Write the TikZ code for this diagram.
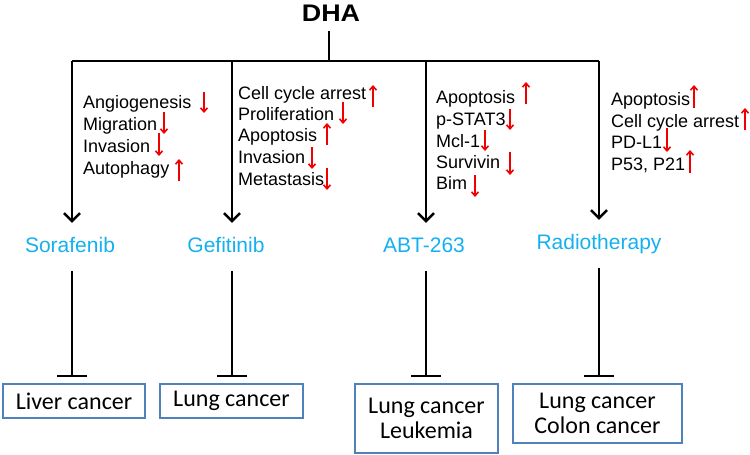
\documentclass[tikz,border=0pt]{standalone}
\usepackage{fontspec}
\setmainfont{Liberation Sans}
\newfontfamily\boxfont{Carlito}
\usetikzlibrary{arrows.meta}
\usetikzlibrary{positioning}
\definecolor{drugblue}{RGB}{20,176,240}
\definecolor{boxblue}{RGB}{79,129,189}
\definecolor{effred}{RGB}{240,0,0}
\tikzstyle{root}=[font=\fontsize{24}{28}\selectfont\bfseries,inner ysep=10pt,anchor=base]
\tikzstyle{drug}=[font=\fontsize{21}{25}\selectfont,text=drugblue,
        text height=15pt,text depth=4pt,inner ysep=14pt,anchor=base]
\tikzstyle{effect}=[font=\fontsize{18}{21}\selectfont,anchor=base west,inner sep=0pt]
\tikzstyle{cancer}=[rectangle,draw=boxblue,line width=2pt,align=center,
        font=\boxfont\fontsize{24}{25}\selectfont,inner sep=0pt]
\tikzstyle{trunk}=[line width=2.5pt]
\tikzstyle{suite}=[-{Straight Barb[length=8pt,width=16pt]},line width=2.5pt]
\tikzstyle{inhib}=[-{Bar[width=30pt,line width=2pt]},line width=2pt,
        shorten <=1pt,shorten >=6pt]
\tikzstyle{incr}=[-{Straight Barb[length=4pt,width=7pt]},effred,line width=1.6pt]
\tikzstyle{decr}=[-{Straight Barb[length=4pt,width=7pt]},effred,line width=1.6pt]

\begin{document}
\begin{tikzpicture}[x=1pt,y=-1pt]
\useasboundingbox (0,0) rectangle (750,455);
\node[root] (dha) at (331,21) {\scalebox{1.12}[1]{DHA}};
\coordinate (j0) at (329,61);
\coordinate (j1) at (72,61);
\coordinate (j2) at (232,61);
\coordinate (j3) at (426,61);
\coordinate (j4) at (599,61);
%drugs
\node[drug] (sora) at (70,252) {Sorafenib};
\node[drug] (gefi) at (226,252) {Gefitinib};
\node[drug] (abt) at (424,252) {ABT-263};
\node[drug] (radio) at (599,249) {Radiotherapy};
%cancers
\node[cancer,minimum width=142pt,minimum height=34pt] (liver) at (74,401) {Liver cancer};
\node[cancer,minimum width=143pt,minimum height=34pt] (lung) at (231.5,401) {Lung cancer};
\node[cancer,minimum width=143pt,minimum height=69pt] (leuk) at (426.5,418.5) {Lung cancer\\Leukemia};
\node[cancer,minimum width=169pt,minimum height=59pt] (colon) at (597.5,413.5) {Lung cancer\\Colon cancer};
%effects
\node[effect] (s1) at (83,108) {Angiogenesis};
\node[effect] (s2) at (83,130) {Migration};
\node[effect] (s3) at (83,152) {Invasion};
\node[effect] (s4) at (83,174) {Autophagy};
\node[effect] (g1) at (238,99) {Cell cycle arrest};
\node[effect] (g2) at (238,120) {Proliferation};
\node[effect] (g3) at (238,141) {Apoptosis};
\node[effect] (g4) at (238,163) {Invasion};
\node[effect] (g5) at (238,185) {Metastasis};
\node[effect] (a1) at (436,103) {Apoptosis};
\node[effect] (a2) at (436,125) {p-STAT3};
\node[effect] (a3) at (436,147) {Mcl-1};
\node[effect] (a4) at (436,168) {Survivin};
\node[effect] (a5) at (436,189) {Bim};
\node[effect] (r1) at (611,105) {Apoptosis};
\node[effect] (r2) at (611,127) {Cell cycle arrest};
\node[effect] (r3) at (611,148) {PD-L1};
\node[effect] (r4) at (611,170) {P53, P21};
%lines
\draw[trunk] (dha.south -| j0) -- (j0);
\draw[trunk] (j1) -- (j4);
\draw[suite] (j1) -- (j1 |- sora.north);
\draw[suite] (j2) -- (j2 |- gefi.north);
\draw[suite] (j3) -- (j3 |- abt.north);
\draw[suite] (j4) -- (j4 |- radio.north);
\draw[inhib] (j1 |- sora.south) -- (j1 |- liver.north);
\draw[inhib] (j2 |- gefi.south) -- (j2 |- lung.north);
\draw[inhib] (j3 |- abt.south) -- (j3 |- leuk.north);
\draw[inhib] (j4 |- radio.south) -- (j4 |- colon.north);
%red arrows
\draw[decr] (204,92) -- (204,113);
\draw[decr] (164,112) -- (164,134);
\draw[decr] (159,133) -- (159,156);
\draw[incr] (179,181) -- (179,159);
\draw[incr] (373,107) -- (373,85);
\draw[decr] (343,102) -- (343,124);
\draw[incr] (327,145) -- (327,123);
\draw[decr] (312,147) -- (312,169);
\draw[decr] (327,168) -- (327,190);
\draw[incr] (526,104) -- (526,82);
\draw[decr] (510,109) -- (510,130);
\draw[decr] (485,130) -- (485,151);
\draw[decr] (510,152) -- (510,175);
\draw[decr] (475,175) -- (475,197);
\draw[incr] (694,108) -- (694,85);
\draw[incr] (745,130) -- (745,108);
\draw[decr] (667,128) -- (667,152);
\draw[incr] (690,173) -- (690,150);
\end{tikzpicture}
\end{document}
